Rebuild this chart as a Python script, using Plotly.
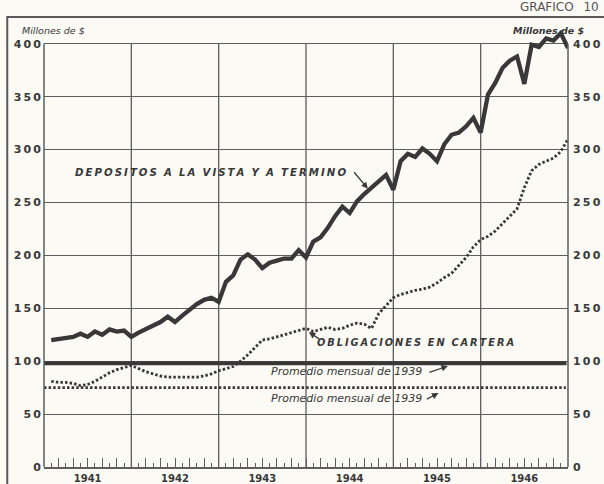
import plotly.graph_objects as go

# ---- data (millones de $, monthly, Jan 1941 .. Dec 1946) ----
YEARS = ["1941", "1942", "1943", "1944", "1945", "1946"]
MONTH_INDEX = list(range(1, 73))  # end of each month, months since Jan 1941

DEPOSITOS = [
    120, 121, 122, 123, 126, 123, 128, 125, 130, 128, 129, 123,   # 1941
    127, 130, 133, 137, 142, 137, 143, 149, 154, 158, 160, 156,   # 1942
    175, 181, 196, 201, 196, 188, 193, 195, 197, 197, 205, 198,   # 1943
    213, 217, 226, 237, 246, 240, 251, 258, 264, 270, 276, 262,   # 1944
    289, 296, 293, 301, 296, 289, 305, 314, 316, 322, 330, 316,   # 1945
    352, 363, 377, 384, 388, 362, 399, 397, 405, 403, 410, 396,   # 1946
]
OBLIGACIONES = [
    81, 80, 80, 79, 77, 78, 81, 85, 89, 92, 94, 96,               # 1941
    93, 90, 88, 86, 85, 85, 85, 85, 85, 86, 88, 91,               # 1942
    93, 95, 100, 106, 113, 120, 121, 123, 125, 127, 129, 131,     # 1943
    128, 130, 132, 130, 131, 134, 136, 135, 131, 145, 153, 160,   # 1944
    163, 165, 167, 168, 170, 174, 179, 183, 191, 198, 208, 215,   # 1945
    218, 223, 230, 237, 244, 264, 280, 286, 289, 292, 298, 310,   # 1946
]
PROMEDIO_DEP_1939 = 98
PROMEDIO_OBL_1939 = 75
Y_TICKS = [0, 50, 100, 150, 200, 250, 300, 350, 400]

INK = "#383838"
GRID = "#5e5e5e"
PAPER = "#fbfaf5"
FRAME = "#5a5a5a"

X_END = 72
Y_TOP = 400
YEAR_CENTERS = [6 + 12 * i for i in range(len(YEARS))]
YEAR_BOUNDS = [12 * i for i in range(1, len(YEARS))]

X_DOMAIN = [0.07285, 0.94040]
Y_DOMAIN = [0.03586, 0.95781]

def spaced(s):
    return "\u2009".join(s)

def spaced_words(s, gap="  "):
    return gap.join(spaced(w) for w in s.split(" "))

tick_text = [spaced(str(v)) for v in Y_TICKS]

fig = go.Figure()

# page frame (left edge and top edge of the printed page) on a full-size helper subplot
fig.add_trace(go.Scatter(x=[0.012, 0.012, 1], y=[0, 0.9852, 0.9852], xaxis="x3", yaxis="y3", mode="lines",
                         line=dict(color=FRAME, width=2), hoverinfo="skip", showlegend=False,
                         cliponaxis=False))
# promedio lines
fig.add_trace(go.Scatter(x=[0, MONTH_INDEX[-1] - 0.2], y=[PROMEDIO_DEP_1939] * 2, mode="lines",
                         line=dict(color=INK, width=4), hoverinfo="skip", showlegend=False))
fig.add_trace(go.Scatter(x=[0, MONTH_INDEX[-1] - 0.3], y=[PROMEDIO_OBL_1939] * 2, mode="lines",
                         line=dict(color=INK, width=2.8, dash="2.5px,2.1px"), hoverinfo="skip", showlegend=False))
# obligaciones
fig.add_trace(go.Scatter(x=MONTH_INDEX, y=OBLIGACIONES, mode="lines",
                         line=dict(color=INK, width=2.8, dash="2.5px,2.1px"), hoverinfo="skip", showlegend=False))
# depositos
fig.add_trace(go.Scatter(x=MONTH_INDEX, y=DEPOSITOS, mode="lines",
                         line=dict(color=INK, width=4.3), hoverinfo="skip", showlegend=False))
# dummies for overlay axes
fig.add_trace(go.Scatter(x=[0], y=[0], xaxis="x2", yaxis="y", mode="markers",
                         marker=dict(opacity=0), hoverinfo="skip", showlegend=False))
fig.add_trace(go.Scatter(x=[0], y=[0], xaxis="x", yaxis="y2", mode="markers",
                         marker=dict(opacity=0), hoverinfo="skip", showlegend=False))

tickfont = dict(family="DejaVu Sans", size=11, color=INK, weight="bold")

fig.update_layout(
    template="none",
    width=604, height=484,
    margin=dict(l=0, r=0, t=10, b=0, autoexpand=False),
    paper_bgcolor=PAPER, plot_bgcolor="rgba(0,0,0,0)",
    showlegend=False,
    xaxis=dict(domain=X_DOMAIN, range=[0, X_END], tickmode="array", tickvals=YEAR_CENTERS, ticktext=YEARS,
               ticks="", showgrid=False, zeroline=False, showline=True, linecolor=GRID, linewidth=1.5,
               automargin=False, ticklabelstandoff=1,
               tickfont=dict(family="DejaVu Sans", size=10, color=INK, weight="bold"),
               minor=dict(tickmode="array", tickvals=MONTH_INDEX[:-1], ticks="inside", ticklen=4,
                          tickcolor=GRID, tickwidth=1, showgrid=False),
               fixedrange=True),
    xaxis2=dict(domain=X_DOMAIN, range=[0, X_END], overlaying="x", anchor="y", side="bottom", automargin=False,
                tickmode="linear", tick0=0, dtick=2, ticks="inside", ticklen=9,
                tickcolor=GRID, tickwidth=1, showticklabels=False, showgrid=False,
                zeroline=False, showline=False, fixedrange=True),
    yaxis=dict(domain=Y_DOMAIN, range=[0, 413], tickmode="array", tickvals=Y_TICKS, ticktext=tick_text,
               showgrid=True, gridcolor=GRID, gridwidth=1.3, zeroline=False, ticks="",
               automargin=False, ticklabelstandoff=2,
               showline=False, tickfont=tickfont, fixedrange=True),
    yaxis2=dict(domain=Y_DOMAIN, range=[0, 413], overlaying="y", anchor="x", side="right", tickmode="array",
                tickvals=Y_TICKS, ticktext=tick_text, showgrid=False, zeroline=False,
                automargin=False, ticklabelstandoff=4,
                ticks="", showline=False, tickfont=tickfont, fixedrange=True),
    xaxis3=dict(domain=[0, 1], range=[0, 1], anchor="y3", showgrid=False, zeroline=False,
                showticklabels=False, showline=False, ticks="", fixedrange=True),
    yaxis3=dict(domain=[0, 1], range=[0, 1], anchor="x3", showgrid=False, zeroline=False,
                showticklabels=False, showline=False, ticks="", fixedrange=True),
)

shapes = []
for b in YEAR_BOUNDS:
    shapes.append(dict(type="line", xref="x", yref="y", x0=b, x1=b, y0=0, y1=Y_TOP,
                       line=dict(color=GRID, width=1.3), layer="below"))
for px in X_DOMAIN:
    shapes.append(dict(type="line", xref="paper", yref="y", x0=px, x1=px, y0=0, y1=Y_TOP,
                       line=dict(color=GRID, width=1.5)))
fig.update_layout(shapes=shapes)

label_bold = dict(family="DejaVu Sans", size=10.2, color=INK, weight="bold", style="italic")
label_it = dict(family="DejaVu Sans", size=11, color=INK, style="italic")

# paper coords: x = px/604, y = (484 - py)/474
ann = [
    dict(x=22.9, y=278, xref="x", yref="y", text=spaced_words("DEPOSITOS A LA VISTA Y A TERMINO"),
         showarrow=False, font=label_bold),
    dict(x=44.5, y=263, xref="x", yref="y", text="", showarrow=True, ax=-15, ay=-18,
         arrowhead=2, arrowsize=1, arrowwidth=1.3, arrowcolor=INK),
    dict(x=51.0, y=117.5, xref="x", yref="y", text=spaced_words("OBLIGACIONES EN CARTERA"),
         showarrow=False, font=dict(label_bold, size=9.8)),
    dict(x=36.4, y=127.5, xref="x", yref="y", text="", showarrow=True, ax=12, ay=8,
         arrowhead=2, arrowsize=1, arrowwidth=1.3, arrowcolor=INK),
    dict(x=41.5, y=90, xref="x", yref="y", text="Promedio mensual de 1939",
         showarrow=False, font=label_it),
    dict(x=55.5, y=95.5, xref="x", yref="y", text="", showarrow=True, ax=-20, ay=7,
         arrowhead=2, arrowsize=1, arrowwidth=1.3, arrowcolor=INK),
    dict(x=41.5, y=64.5, xref="x", yref="y", text="Promedio mensual de 1939",
         showarrow=False, font=label_it),
    dict(x=54.2, y=70, xref="x", yref="y", text="", showarrow=True, ax=-13, ay=7,
         arrowhead=2, arrowsize=1, arrowwidth=1.3, arrowcolor=INK),
    dict(x=53 / 604, y=(484 - 30) / 474, xref="paper", yref="paper", text="Millones de $", showarrow=False,
         font=dict(family="DejaVu Sans", size=9.5, color=INK, style="italic"),
         xanchor="center", yanchor="middle"),
    dict(x=548 / 604, y=(484 - 30) / 474, xref="paper", yref="paper", text="Millones de $", showarrow=False,
         font=dict(family="DejaVu Sans", size=9.5, color=INK, style="italic", weight="bold"),
         xanchor="center", yanchor="middle"),
    dict(x=601 / 604, y=(484 - 7) / 474, xref="paper", yref="paper", text="GRAFICO\u2002 10", showarrow=False,
         font=dict(family="DejaVu Sans", size=12, color="#555555"),
         xanchor="right", yanchor="middle"),
]
fig.update_layout(annotations=ann)

fig.write_html("out.html", config={"displayModeBar": False},
               post_script="document.body.style.margin='0';document.body.style.padding='0';")
